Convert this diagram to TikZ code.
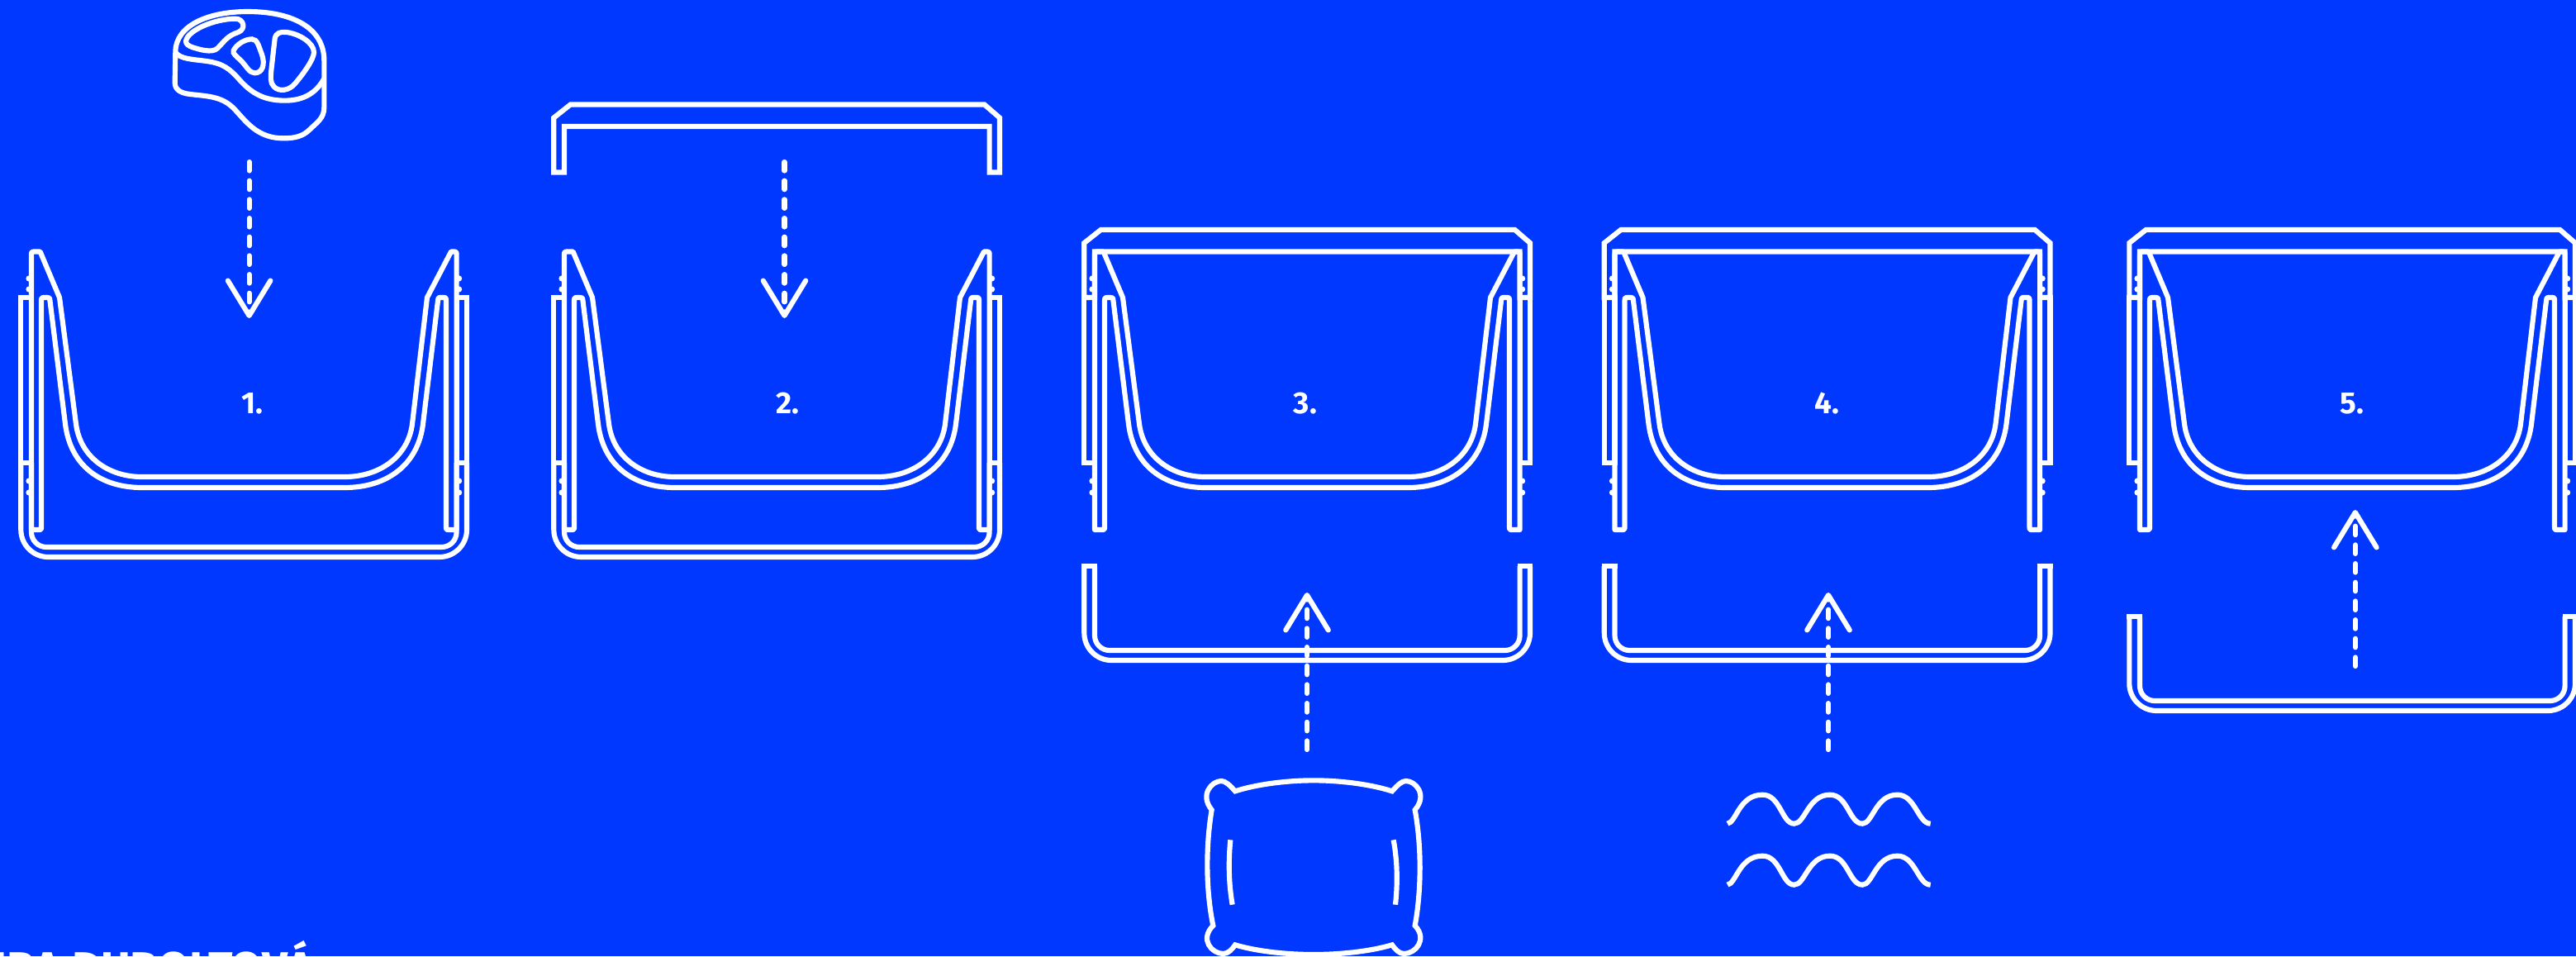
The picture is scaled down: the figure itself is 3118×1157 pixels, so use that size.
\documentclass[tikz,border=0pt]{standalone}
\usepackage{fontspec}
\setmainfont{Fira Sans}
\usetikzlibrary{arrows.meta, positioning}
\definecolor{planblue}{RGB}{0,56,255}

\tikzset{
  ln/.style={white, line width=1.75pt, line join=miter},
  lidpart/.pic={
    \draw[ln] (25.3,360) -- (25.3,294) -- (45.5,278) -- (546.5,278) -- (565,294)
      -- (565,360) -- (552.6,360) -- (552.6,304.5) -- (38,304.5) -- (38,360) -- cycle;
  },
  sleevepart/.pic={
    \draw[ln] (25.3,360) rectangle (38,560);
    \draw[ln] (552.6,360) rectangle (565,560);
  },
  traypart/.pic={
    \draw[ln, rounded corners=.33cm] (25.3,560) -- (25.3,674) -- (565,674) -- (565,560);
    \draw[ln, rounded corners=.18cm] (38,560) -- (38,662) -- (552.6,662) -- (552.6,560);
    \draw[ln] (22.2,560) -- (41.1,560);
    \draw[ln] (549.5,560) -- (568.1,560);
  },
  bowlpart/.pic={
    \draw[ln, line join=round] (38,641) -- (46,641) .. controls (50,641) .. (50,637) -- (50,365)
      .. controls (50,360) .. (55,360) -- (57,360) .. controls (60,360) .. (60.5,364) -- (79,513)
      .. controls (85,562) and (120,590) .. (172,590) -- (417,590)
      .. controls (469,590) and (506,562) .. (512,513) -- (530,364)
      .. controls (530.5,360) .. (534,360) -- (536,360) .. controls (540,360) .. (540,365) -- (540,637)
      .. controls (540,641) .. (544,641) -- (552.6,641) -- (552.6,309)
      .. controls (552.6,304.5) .. (548,304.5) -- (546,304.5) -- (517,360) -- (499,513)
      .. controls (494,552) and (460,577) .. (417,577) -- (172,577)
      .. controls (130,577) and (97,552) .. (92,513) -- (72,360) -- (48.6,304.5) -- (43,304.5)
      .. controls (38,304.5) .. (38,309) -- cycle;
    % snap bumps on both walls
    \foreach \yy in {337,350,582,596} {
      \fill[white] (35,\yy) circle[radius=3.6];
      \fill[white] (555.6,\yy) circle[radius=3.6];
    }
  },
}

\begin{document}
\begin{tikzpicture}[
  x=0.01cm, y=-0.01cm,
  arr/.style={white, line width=1.75pt, line cap=round, dash pattern=on 3pt off 3.45pt,
              -{Straight Barb[length=0.423cm, width=0.515cm, round]}},
  steplabel/.style={text=white, font=\fontsize{10.5pt}{11pt}\selectfont\bfseries, inner sep=0pt},
  namelabel/.style={text=white, font=\fontsize{15.5pt}{17pt}\selectfont\bfseries, inner sep=0pt, anchor=base east},
]
\clip (0,0) rectangle (3118,1157);
\fill[planblue] (0,0) rectangle (3118,1157);

% Panel 1
\pic at (0,0) {sleevepart};
\pic at (0,0) {traypart};
\pic at (0,0) {bowlpart};
\node[steplabel] (lbl1) at (305,488) {1.};

% Panel 2
\pic at (645,0) {sleevepart};
\pic at (645,0) {traypart};
\pic at (645,0) {bowlpart};
\pic at (645,-151.5) {lidpart};
\node[steplabel] (lbl2) at (953,488) {2.};

% Panels 3 to 5
\foreach \dx/\dy/\num/\lx in {1287/125/3/1580, 1916.5/125/4/2211, 2552/186/5/2847} {
  \pic at (\dx,0) {lidpart};
  \pic at (\dx,0) {sleevepart};
  \pic at (\dx,0) {bowlpart};
  \pic at (\dx,\dy) {traypart};
  \node[steplabel] (lbl\num) at (\lx,488) {\num.};
}

% Arrows
\coordinate (a1s) at (301.6,196);
\coordinate (a1e) at (301.6,385);
\coordinate (a2s) at (949.5,196);
\coordinate (a2e) at (949.5,385);
\coordinate (a3s) at (1582,907);
\coordinate (a3e) at (1582,717);
\coordinate (a4s) at (2213,907);
\coordinate (a4e) at (2213,717);
\coordinate (a5s) at (2850.8,806);
\coordinate (a5e) at (2850.8,617);
\foreach \n in {1,...,5} {
  \draw[arr] (a\n s) -- (a\n e);
}

% Steak
\begin{scope}[shift={(180,0)}, scale=1/3]
  \draw[ln, line join=round] (97,190) .. controls (97,90) and (220,42) .. (360,42)
    .. controls (520,42) and (637,100) .. (637,220) -- (637,390)
    .. controls (637,430) and (610,445) .. (585,470)
    .. controls (560,495) and (530,502) .. (490,502)
    .. controls (400,502) and (360,450) .. (315,400)
    .. controls (270,350) and (220,350) .. (150,342)
    .. controls (115,338) and (95,325) .. (95,300) -- cycle;
  \draw[ln] (97,190) .. controls (115,215) and (160,215) .. (210,222)
    .. controls (270,230) and (295,250) .. (330,290)
    .. controls (375,340) and (420,365) .. (495,365)
    .. controls (565,365) and (610,335) .. (637,285);
  \draw[ln] (135,150) .. controls (140,110) and (240,68) .. (315,68)
    .. controls (345,68) and (355,105) .. (325,117)
    .. controls (285,130) and (275,150) .. (250,175)
    .. controls (230,195) and (180,178) .. (160,172)
    .. controls (145,167) and (135,160) .. (135,150) -- cycle;
  \draw[ln] (308,183) .. controls (320,160) and (350,142) .. (375,142)
    .. controls (395,142) and (400,170) .. (410,195)
    .. controls (425,235) and (412,265) .. (385,265)
    .. controls (365,265) and (355,240) .. (335,220)
    .. controls (320,205) and (303,195) .. (308,183) -- cycle;
  \draw[ln] (458,140) .. controls (462,118) and (480,115) .. (500,117)
    .. controls (545,122) and (600,155) .. (600,190)
    .. controls (600,215) and (560,270) .. (530,305)
    .. controls (510,328) and (475,335) .. (455,315)
    .. controls (440,300) and (443,280) .. (445,255) -- cycle;
\end{scope}

% Pillow
\begin{scope}[shift={(1420,900)}, scale=1/3]
  \draw[ln] (225,172) .. controls (310,145) and (420,133) .. (510,133)
    .. controls (600,133) and (710,145) .. (795,172)
    .. controls (815,150) and (830,135) .. (845,135)
    .. controls (880,135) and (925,185) .. (878,240)
    .. controls (902,370) and (902,530) .. (878,660)
    .. controls (925,710) and (880,762) .. (838,762)
    .. controls (820,762) and (805,745) .. (795,730)
    .. controls (710,755) and (600,765) .. (510,765)
    .. controls (420,765) and (310,755) .. (225,730)
    .. controls (215,745) and (200,762) .. (182,762)
    .. controls (140,762) and (95,710) .. (145,660)
    .. controls (118,530) and (118,370) .. (140,240)
    .. controls (95,185) and (140,135) .. (175,135)
    .. controls (190,135) and (205,150) .. (225,172) -- cycle;
  \draw[ln] (208,349) .. controls (200,430) and (202,510) .. (215,584);
  \draw[ln] (800,349) .. controls (815,430) and (815,510) .. (807,584);
\end{scope}

% Waves
\foreach \wy in {0,74} {
  \begin{scope}[shift={(2060,940+\wy)}, scale=1/3]
    \draw[ln] (93,170) .. controls (125,165) and (135,65) .. (220,65)
      .. controls (285,65) and (290,170) .. (335,170)
      .. controls (375,170) and (385,65) .. (465,65)
      .. controls (530,65) and (535,170) .. (583,170)
      .. controls (620,170) and (630,65) .. (710,65)
      .. controls (775,65) and (785,170) .. (830,170);
  \end{scope}
}

% Name cut off by the lower edge
\node[namelabel] (name) at (380,1190) {IRA DUBOLTOVÁ};
\end{tikzpicture}
\end{document}
